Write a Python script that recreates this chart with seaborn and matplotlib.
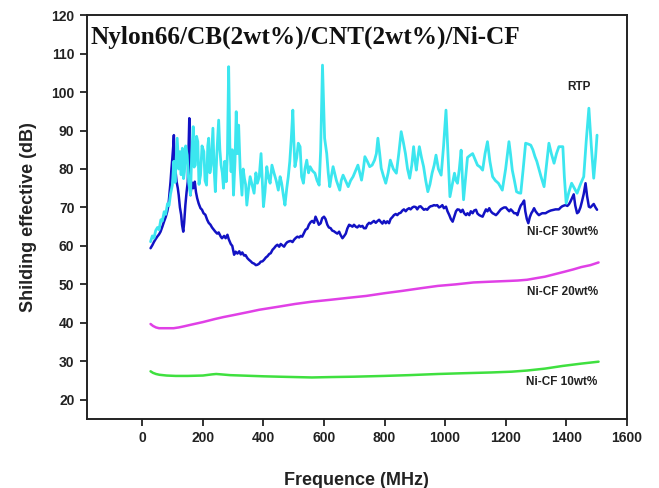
import numpy as np
import pandas as pd
import matplotlib
matplotlib.use("Agg")
import matplotlib.pyplot as plt
import seaborn as sns

# ---- data -------------------------------------------------------------
rtp_freq = [27, 33, 38, 44, 50, 55, 61, 66, 72, 77, 83, 88, 93, 99, 104, 108, 115, 120, 124, 128,
            132, 136, 139, 143, 148, 153, 159, 163, 168, 171, 175, 179, 183, 187, 192, 197, 203, 207,
            212, 216, 219, 223, 227, 233, 237, 241, 246, 252, 256, 260, 264, 268, 272, 277, 281, 285,
            289, 293, 297, 301, 306, 310, 314, 318, 323, 329, 333, 337, 341, 345, 351, 356, 362, 369,
            375, 380, 386, 392, 396, 400, 405, 411, 416, 422, 428, 435, 442, 449, 455, 460, 466, 471,
            477, 482, 487, 492, 497, 501, 504, 510, 515, 521, 526, 532, 537, 543, 549, 554, 562, 570,
            577, 584, 589, 595, 602, 609, 614, 619, 624, 630, 641, 652, 657, 663, 671, 680, 688, 696,
            704, 712, 718, 724, 730, 735, 743, 751, 759, 767, 773, 778, 784, 789, 797, 804, 812, 819,
            829, 839, 847, 855, 862, 869, 876, 883, 890, 896, 901, 905, 910, 915, 922, 929, 936, 943,
            950, 957, 964, 970, 978, 987, 995, 1003, 1009, 1016, 1024, 1031, 1036, 1041, 1047, 1053,
            1057, 1061, 1067, 1074, 1082, 1091, 1099, 1107, 1116, 1124, 1132, 1140, 1148, 1157, 1166,
            1176, 1182, 1189, 1200, 1211, 1216, 1222, 1229, 1236, 1243, 1250, 1258, 1266, 1274, 1283,
            1290, 1297, 1303, 1308, 1317, 1327, 1335, 1343, 1351, 1360, 1368, 1376, 1382, 1389, 1394,
            1400, 1409, 1418, 1427, 1436, 1447, 1458, 1466, 1475, 1483, 1491, 1497, 1502]
rtp_se = [61.1, 62.6, 62.0, 64.0, 64.8, 64.2, 66.8, 66.5, 68.9, 68.2, 71.0, 70.5, 73.5, 75.8, 82.0,
          76.5, 88.0, 80.0, 84.5, 78.5, 85.4, 77.5, 79.3, 86.0, 83.6, 76.5, 73.2, 84.0, 91.0, 80.5,
          81.0, 88.5, 87.1, 76.0, 78.4, 86.0, 84.5, 77.0, 75.8, 86.0, 88.0, 79.0, 81.0, 90.6, 80.0,
          74.1, 84.0, 92.7, 85.0, 81.0, 79.0, 75.0, 82.0, 76.7, 84.0, 106.6, 86.0, 79.3, 85.0, 73.2,
          82.0, 94.9, 84.0, 91.4, 80.0, 73.2, 80.0, 77.6, 76.0, 70.6, 75.0, 78.0, 76.0, 73.7, 79.0,
          76.3, 78.0, 84.0, 77.0, 70.2, 74.0, 80.6, 78.0, 76.3, 81.0, 78.9, 77.0, 74.5, 78.0, 76.3,
          73.0, 70.6, 75.0, 78.0, 82.0, 88.0, 95.3, 86.0, 80.6, 83.0, 86.7, 85.8, 78.0, 76.3, 80.0,
          82.3, 79.0, 80.6, 79.5, 78.9, 77.0, 75.8, 85.0, 107.0, 88.0, 84.0, 79.0, 75.4, 78.0, 80.6,
          77.0, 74.5, 77.0, 78.4, 77.0, 75.4, 77.0, 78.0, 79.5, 81.0, 79.0, 77.1, 80.0, 83.2, 82.0,
          80.6, 81.0, 82.3, 84.0, 88.0, 84.0, 80.2, 78.0, 76.3, 79.0, 82.3, 80.0, 78.9, 84.0, 89.7,
          87.0, 84.0, 80.0, 77.6, 81.0, 85.8, 82.0, 79.7, 83.0, 85.8, 83.0, 80.6, 77.0, 74.1, 76.0,
          78.9, 81.0, 83.6, 80.0, 78.4, 86.0, 95.3, 85.0, 72.8, 76.0, 78.9, 77.0, 76.3, 80.0, 84.9,
          78.0, 72.0, 77.0, 83.0, 83.5, 84.0, 82.5, 81.0, 80.5, 79.7, 84.0, 87.1, 82.0, 78.0, 77.0,
          76.3, 75.5, 74.5, 80.0, 87.1, 84.0, 79.7, 77.0, 74.1, 73.8, 73.7, 80.0, 86.7, 86.5, 86.2,
          85.0, 83.2, 82.0, 80.6, 78.0, 75.4, 81.0, 86.7, 84.0, 81.5, 84.0, 85.8, 85.8, 85.8, 78.0,
          71.1, 74.0, 76.3, 75.0, 73.7, 76.0, 78.0, 87.0, 95.8, 86.0, 77.6, 83.0, 88.8]

cf30_freq = [27, 33, 38, 44, 50, 55, 60, 66, 71, 77, 82, 86, 90, 93, 96, 99, 102, 104, 106, 110,
             113, 117, 120, 124, 128, 131, 135, 138, 142, 146, 150, 153, 155, 157, 159, 163, 168,
             173, 177, 181, 186, 192, 197, 202, 208, 214, 219, 225, 230, 236, 241, 247, 252, 259,
             263, 270, 275, 281, 285, 292, 297, 303, 308, 314, 320, 325, 330, 336, 341, 347, 352,
             358, 363, 369, 375, 380, 386, 391, 397, 402, 408, 413, 419, 424, 430, 435, 441, 446,
             452, 457, 463, 468, 474, 479, 485, 490, 496, 501, 507, 512, 518, 523, 528, 534, 539,
             545, 550, 556, 561, 567, 572, 578, 583, 589, 594, 600, 605, 611, 616, 622, 627, 633,
             638, 644, 650, 655, 661, 666, 672, 677, 683, 688, 694, 699, 705, 710, 716, 721, 727,
             732, 738, 743, 749, 754, 760, 765, 771, 776, 782, 787, 793, 798, 804, 809, 815, 820,
             826, 831, 837, 842, 848, 853, 859, 864, 870, 875, 881, 886, 892, 897, 903, 908, 914,
             919, 925, 930, 936, 941, 947, 952, 958, 963, 969, 974, 980, 985, 991, 996, 1003, 1008,
             1014, 1019, 1025, 1030, 1036, 1041, 1047, 1052, 1058, 1063, 1069, 1074, 1080, 1085,
             1091, 1096, 1102, 1107, 1113, 1118, 1124, 1129, 1135, 1140, 1146, 1151, 1157, 1162,
             1168, 1173, 1179, 1184, 1190, 1195, 1201, 1206, 1212, 1217, 1223, 1228, 1234, 1239,
             1245, 1250, 1255, 1261, 1265, 1270, 1275, 1280, 1285, 1289, 1294, 1299, 1305, 1310,
             1316, 1321, 1327, 1332, 1338, 1343, 1349, 1354, 1360, 1365, 1371, 1376, 1382, 1387,
             1393, 1398, 1404, 1409, 1414, 1420, 1425, 1430, 1436, 1441, 1447, 1452, 1458, 1464,
             1469, 1475, 1480, 1486, 1491, 1497, 1502]
cf30_se = [59.4, 60.2, 61.0, 61.8, 62.5, 63.0, 63.7, 65.0, 66.2, 67.5, 68.9, 70.5, 74.0, 76.7, 80.0,
           82.8, 86.0, 88.8, 82.0, 79.0, 76.7, 75.0, 73.2, 70.0, 68.1, 65.5, 63.7, 66.0, 70.6, 74.0,
           76.7, 86.0, 93.2, 80.0, 73.2, 76.5, 75.0, 76.7, 74.0, 72.4, 71.0, 69.8, 69.4, 68.5, 68.1,
           66.8, 66.0, 65.5, 64.8, 64.2, 63.7, 63.2, 63.5, 62.4, 62.0, 62.6, 62.0, 62.9, 61.8, 60.5,
           60.0, 57.7, 58.5, 58.0, 58.6, 57.8, 58.3, 57.5, 57.6, 56.8, 56.4, 56.0, 55.6, 55.4, 55.0,
           55.1, 55.4, 55.9, 56.0, 56.4, 57.0, 57.3, 57.9, 58.1, 59.0, 59.4, 60.0, 60.3, 59.8, 60.5,
           60.1, 59.8, 60.6, 61.0, 61.2, 61.3, 61.0, 61.6, 62.1, 62.4, 62.2, 62.6, 62.4, 63.4, 64.2,
           64.5, 65.5, 66.2, 66.5, 66.0, 67.6, 66.5, 65.5, 65.9, 67.2, 67.6, 67.0, 65.5, 64.8, 64.6,
           64.0, 63.8, 63.5, 63.2, 63.7, 62.8, 62.0, 62.5, 63.2, 64.5, 65.5, 65.3, 65.0, 65.5, 65.0,
           64.8, 65.3, 65.0, 65.2, 64.6, 64.6, 65.5, 66.0, 65.8, 66.2, 66.5, 66.0, 66.4, 66.8, 66.3,
           65.8, 66.5, 65.9, 66.4, 65.9, 67.0, 67.5, 68.0, 68.3, 68.0, 68.5, 68.6, 69.2, 69.5, 69.0,
           69.5, 69.8, 69.5, 70.0, 70.2, 70.1, 69.5, 70.2, 70.3, 69.8, 69.4, 69.6, 69.4, 70.0, 70.3,
           70.4, 70.6, 70.5, 70.6, 70.0, 70.2, 70.6, 69.8, 70.2, 69.0, 68.0, 67.0, 66.3, 67.5, 69.0,
           69.5, 69.4, 68.8, 69.4, 68.5, 68.0, 68.5, 68.0, 69.0, 68.5, 69.2, 69.4, 68.4, 68.0, 67.8,
           67.6, 68.5, 69.5, 69.0, 69.8, 69.0, 68.5, 68.3, 68.0, 68.4, 69.0, 69.5, 69.8, 70.0, 70.0,
           69.5, 69.0, 69.5, 69.0, 68.5, 68.5, 68.0, 69.5, 70.5, 71.0, 71.8, 69.0, 67.0, 65.9, 67.5,
           68.5, 69.0, 69.8, 69.0, 68.4, 68.0, 68.3, 68.5, 68.5, 68.5, 68.8, 69.0, 69.2, 69.3, 69.4,
           69.5, 69.5, 69.5, 70.0, 70.3, 70.5, 70.6, 70.4, 70.8, 71.5, 72.5, 73.4, 70.5, 68.5, 68.8,
           70.0, 71.5, 73.5, 76.3, 73.0, 70.2, 70.0, 70.5, 70.9, 70.0, 69.4]

cf20_freq = [27, 35, 45, 55, 70, 85, 103, 120, 138, 160, 200, 240, 268, 300, 350, 386, 450, 504,
             560, 622, 680, 740, 800, 858, 920, 976, 1035, 1094, 1150, 1212, 1240, 1271, 1300, 1330,
             1360, 1395, 1424, 1450, 1480, 1507]
cf20_se = [39.7, 39.2, 38.8, 38.6, 38.6, 38.6, 38.6, 38.8, 39.1, 39.5, 40.2, 41.0, 41.5, 42.0, 42.8,
           43.4, 44.2, 44.9, 45.5, 46.0, 46.5, 47.0, 47.7, 48.3, 49.0, 49.6, 50.0, 50.5, 50.7, 50.9,
           51.0, 51.2, 51.6, 52.0, 52.6, 53.3, 53.9, 54.5, 55.0, 55.7]

cf10_freq = [27, 35, 45, 56, 80, 110, 150, 200, 230, 244, 260, 290, 327, 400, 450, 504, 560, 622,
             700, 799, 880, 976, 1060, 1153, 1220, 1271, 1330, 1389, 1450, 1507]
cf10_se = [27.4, 27.0, 26.7, 26.5, 26.3, 26.2, 26.2, 26.3, 26.6, 26.7, 26.6, 26.4, 26.3, 26.1, 26.0,
           25.9, 25.8, 25.9, 26.0, 26.2, 26.4, 26.7, 26.9, 27.1, 27.3, 27.6, 28.1, 28.8, 29.4, 29.9]

x_ticks = [0, 200, 400, 600, 800, 1000, 1200, 1400, 1600]
y_ticks = [20, 30, 40, 50, 60, 70, 80, 90, 100, 110, 120]

series_names = ["Ni-CF 10wt%", "Ni-CF 20wt%", "Ni-CF 30wt%", "RTP"]
series_colors = ["#3FE03F", "#E040E6", "#1212C4", "#3CE6EF"]
series_widths = [1.8, 1.8, 1.8, 2.0]

# ---- style ------------------------------------------------------------
sns.set_style("ticks")
plt.rcParams["font.family"] = ["Liberation Sans", "DejaVu Sans"]

frames = [
    pd.DataFrame({"freq": cf10_freq, "se": cf10_se, "sample": series_names[0]}),
    pd.DataFrame({"freq": cf20_freq, "se": cf20_se, "sample": series_names[1]}),
    pd.DataFrame({"freq": cf30_freq, "se": cf30_se, "sample": series_names[2]}),
    pd.DataFrame({"freq": rtp_freq, "se": rtp_se, "sample": series_names[3]}),
]
data = pd.concat(frames, ignore_index=True)

fig = plt.figure(figsize=(6.59, 4.88), dpi=100)
ax = fig.add_axes([0.132, 0.1414, 0.819, 0.8276])

for name, color, lw in zip(series_names, series_colors, series_widths):
    sub = data[data["sample"] == name]
    sns.lineplot(data=sub, x="freq", y="se", ax=ax, color=color, linewidth=lw,
                 estimator=None, sort=False, legend=False)

ax.set_xlim(-183, 1600)
ax.set_ylim(15, 120)
ax.set_xticks(x_ticks)
ax.set_yticks(y_ticks)

for side in ["left", "bottom", "top", "right"]:
    ax.spines[side].set_linewidth(1.4)
    ax.spines[side].set_color("#222222")

ax.tick_params(axis="both", direction="out", length=5, width=1.3, color="#222222",
               labelsize=10, labelcolor="#222222", pad=4)
for lbl in ax.get_xticklabels() + ax.get_yticklabels():
    lbl.set_fontweight("bold")

ax.set_xlabel("Frequence (MHz)", fontsize=13, fontweight="bold", color="#222222", labelpad=19)
ax.set_ylabel("Shilding effective (dB)", fontsize=13, fontweight="bold", color="#222222",
              labelpad=10)

ax.text(0.007, 0.946, "Nylon66/CB(2wt%)/CNT(2wt%)/Ni-CF", transform=ax.transAxes,
        fontsize=18.2, fontweight="bold", family=["Liberation Serif", "DejaVu Serif"],
        ha="left", va="center", color="#111111")

label_pos = {"RTP": (1480, 101.4), "Ni-CF 30wt%": (1505, 63.5),
             "Ni-CF 20wt%": (1505, 48.1), "Ni-CF 10wt%": (1502, 24.5)}
for name, (lx, ly) in label_pos.items():
    ax.text(lx, ly, name, fontsize=8.5, fontweight="bold", color="#222222",
            ha="right", va="center")

fig.savefig("out.png", dpi=100)
